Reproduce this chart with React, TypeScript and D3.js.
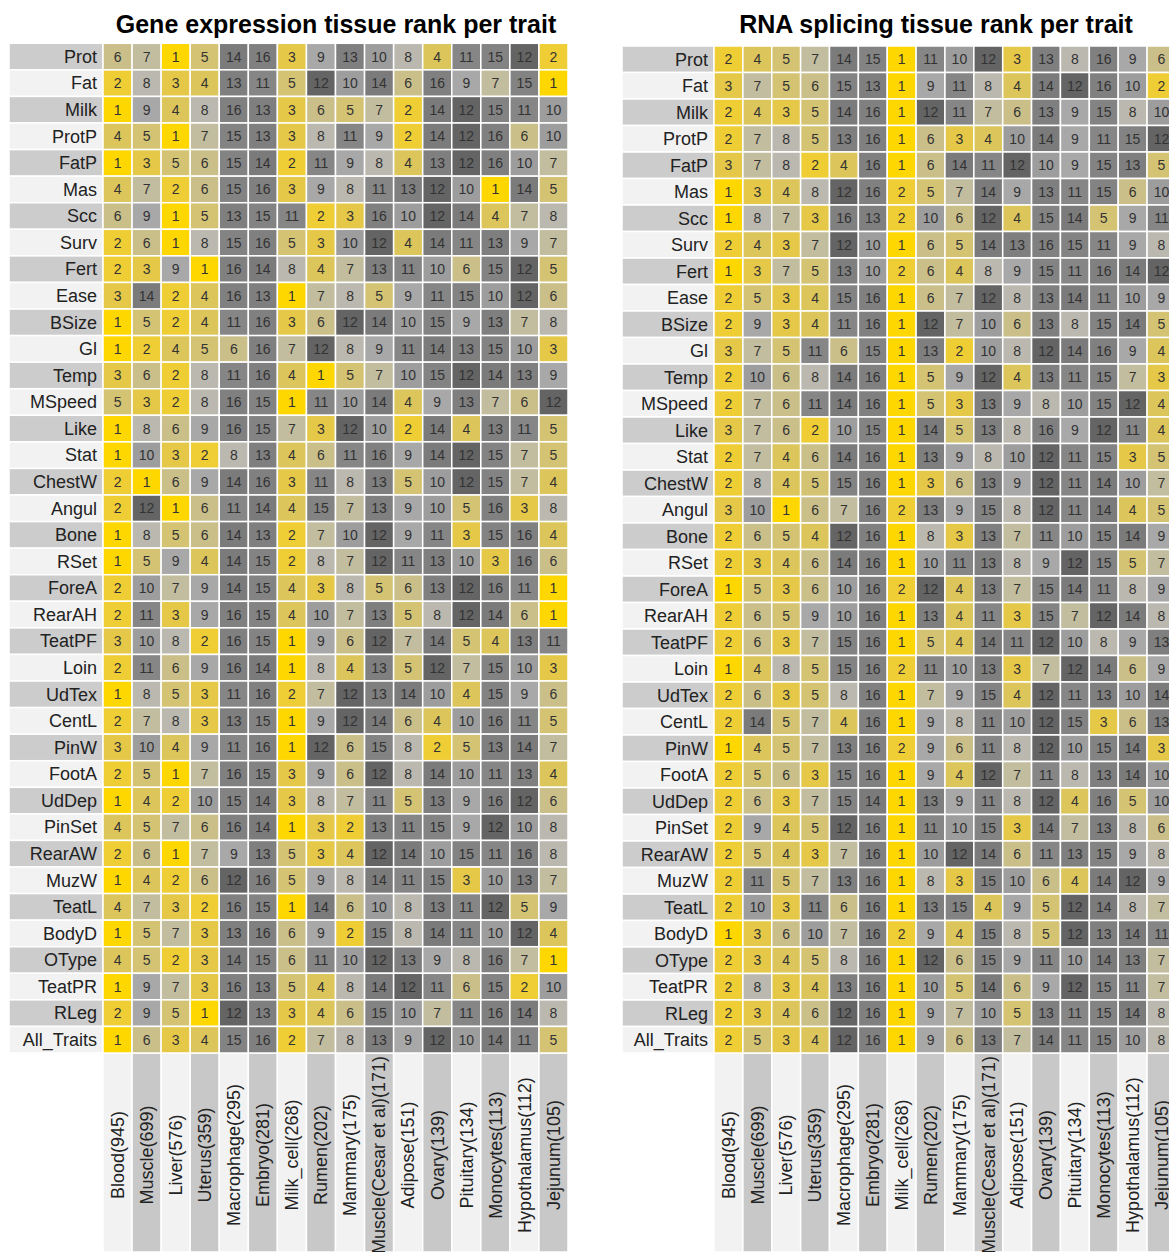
import React from "react";
import * as d3 from "d3";

// Tissues (columns) with number of samples
const tissues = [
  "Blood(945)", "Muscle(699)", "Liver(576)", "Uterus(359)", "Macrophage(295)",
  "Embryo(281)", "Milk_cell(268)", "Rumen(202)", "Mammary(175)",
  "Muscle(Cesar et al)(171)", "Adipose(151)", "Ovary(139)", "Pituitary(134)",
  "Monocytes(113)", "Hypothalamus(112)", "Jejunum(105)",
];

// Traits (rows)
const traits = [
  "Prot", "Fat", "Milk", "ProtP", "FatP", "Mas", "Scc", "Surv", "Fert", "Ease",
  "BSize", "Gl", "Temp", "MSpeed", "Like", "Stat", "ChestW", "Angul", "Bone",
  "RSet", "ForeA", "RearAH", "TeatPF", "Loin", "UdTex", "CentL", "PinW", "FootA",
  "UdDep", "PinSet", "RearAW", "MuzW", "TeatL", "BodyD", "OType", "TeatPR",
  "RLeg", "All_Traits",
];

// Tissue rank per trait, gene expression
const geneRanks = [
  [6, 7, 1, 5, 14, 16, 3, 9, 13, 10, 8, 4, 11, 15, 12, 2],
  [2, 8, 3, 4, 13, 11, 5, 12, 10, 14, 6, 16, 9, 7, 15, 1],
  [1, 9, 4, 8, 16, 13, 3, 6, 5, 7, 2, 14, 12, 15, 11, 10],
  [4, 5, 1, 7, 15, 13, 3, 8, 11, 9, 2, 14, 12, 16, 6, 10],
  [1, 3, 5, 6, 15, 14, 2, 11, 9, 8, 4, 13, 12, 16, 10, 7],
  [4, 7, 2, 6, 15, 16, 3, 9, 8, 11, 13, 12, 10, 1, 14, 5],
  [6, 9, 1, 5, 13, 15, 11, 2, 3, 16, 10, 12, 14, 4, 7, 8],
  [2, 6, 1, 8, 15, 16, 5, 3, 10, 12, 4, 14, 11, 13, 9, 7],
  [2, 3, 9, 1, 16, 14, 8, 4, 7, 13, 11, 10, 6, 15, 12, 5],
  [3, 14, 2, 4, 16, 13, 1, 7, 8, 5, 9, 11, 15, 10, 12, 6],
  [1, 5, 2, 4, 11, 16, 3, 6, 12, 14, 10, 15, 9, 13, 7, 8],
  [1, 2, 4, 5, 6, 16, 7, 12, 8, 9, 11, 14, 13, 15, 10, 3],
  [3, 6, 2, 8, 11, 16, 4, 1, 5, 7, 10, 15, 12, 14, 13, 9],
  [5, 3, 2, 8, 16, 15, 1, 11, 10, 14, 4, 9, 13, 7, 6, 12],
  [1, 8, 6, 9, 16, 15, 7, 3, 12, 10, 2, 14, 4, 13, 11, 5],
  [1, 10, 3, 2, 8, 13, 4, 6, 11, 16, 9, 14, 12, 15, 7, 5],
  [2, 1, 6, 9, 14, 16, 3, 11, 8, 13, 5, 10, 12, 15, 7, 4],
  [2, 12, 1, 6, 11, 14, 4, 15, 7, 13, 9, 10, 5, 16, 3, 8],
  [1, 8, 5, 6, 14, 13, 2, 7, 10, 12, 9, 11, 3, 15, 16, 4],
  [1, 5, 9, 4, 14, 15, 2, 8, 7, 12, 11, 13, 10, 3, 16, 6],
  [2, 10, 7, 9, 14, 15, 4, 3, 8, 5, 6, 13, 12, 16, 11, 1],
  [2, 11, 3, 9, 16, 15, 4, 10, 7, 13, 5, 8, 12, 14, 6, 1],
  [3, 10, 8, 2, 16, 15, 1, 9, 6, 12, 7, 14, 5, 4, 13, 11],
  [2, 11, 6, 9, 16, 14, 1, 8, 4, 13, 5, 12, 7, 15, 10, 3],
  [1, 8, 5, 3, 11, 16, 2, 7, 12, 13, 14, 10, 4, 15, 9, 6],
  [2, 7, 8, 3, 13, 15, 1, 9, 12, 14, 6, 4, 10, 16, 11, 5],
  [3, 10, 4, 9, 11, 16, 1, 12, 6, 15, 8, 2, 5, 13, 14, 7],
  [2, 5, 1, 7, 16, 15, 3, 9, 6, 12, 8, 14, 10, 11, 13, 4],
  [1, 4, 2, 10, 15, 14, 3, 8, 7, 11, 5, 13, 9, 16, 12, 6],
  [4, 5, 7, 6, 16, 14, 1, 3, 2, 13, 11, 15, 9, 12, 10, 8],
  [2, 6, 1, 7, 9, 13, 5, 3, 4, 12, 14, 10, 15, 11, 16, 8],
  [1, 4, 2, 6, 12, 16, 5, 9, 8, 14, 11, 15, 3, 10, 13, 7],
  [4, 7, 3, 2, 16, 15, 1, 14, 6, 10, 8, 13, 11, 12, 5, 9],
  [1, 5, 7, 3, 13, 16, 6, 9, 2, 15, 8, 14, 11, 10, 12, 4],
  [4, 5, 2, 3, 14, 15, 6, 11, 10, 12, 13, 9, 8, 16, 7, 1],
  [1, 9, 7, 3, 16, 13, 5, 4, 8, 14, 12, 11, 6, 15, 2, 10],
  [2, 9, 5, 1, 12, 13, 3, 4, 6, 15, 10, 7, 11, 16, 14, 8],
  [1, 6, 3, 4, 15, 16, 2, 7, 8, 13, 9, 12, 10, 14, 11, 5],
];

// Tissue rank per trait, RNA splicing
const spliceRanks = [
  [2, 4, 5, 7, 14, 15, 1, 11, 10, 12, 3, 13, 8, 16, 9, 6],
  [3, 7, 5, 6, 15, 13, 1, 9, 11, 8, 4, 14, 12, 16, 10, 2],
  [2, 4, 3, 5, 14, 16, 1, 12, 11, 7, 6, 13, 9, 15, 8, 10],
  [2, 7, 8, 5, 13, 16, 1, 6, 3, 4, 10, 14, 9, 11, 15, 12],
  [3, 7, 8, 2, 4, 16, 1, 6, 14, 11, 12, 10, 9, 15, 13, 5],
  [1, 3, 4, 8, 12, 16, 2, 5, 7, 14, 9, 13, 11, 15, 6, 10],
  [1, 8, 7, 3, 16, 13, 2, 10, 6, 12, 4, 15, 14, 5, 9, 11],
  [2, 4, 3, 7, 12, 10, 1, 6, 5, 14, 13, 16, 15, 11, 9, 8],
  [1, 3, 7, 5, 13, 10, 2, 6, 4, 8, 9, 15, 11, 16, 14, 12],
  [2, 5, 3, 4, 15, 16, 1, 6, 7, 12, 8, 13, 14, 11, 10, 9],
  [2, 9, 3, 4, 11, 16, 1, 12, 7, 10, 6, 13, 8, 15, 14, 5],
  [3, 7, 5, 11, 6, 15, 1, 13, 2, 10, 8, 12, 14, 16, 9, 4],
  [2, 10, 6, 8, 14, 16, 1, 5, 9, 12, 4, 13, 11, 15, 7, 3],
  [2, 7, 6, 11, 14, 16, 1, 5, 3, 13, 9, 8, 10, 15, 12, 4],
  [3, 7, 6, 2, 10, 15, 1, 14, 5, 13, 8, 16, 9, 12, 11, 4],
  [2, 7, 4, 6, 14, 16, 1, 13, 9, 8, 10, 12, 11, 15, 3, 5],
  [2, 8, 4, 5, 15, 16, 1, 3, 6, 13, 9, 12, 11, 14, 10, 7],
  [3, 10, 1, 6, 7, 16, 2, 13, 9, 15, 8, 12, 11, 14, 4, 5],
  [2, 6, 5, 4, 12, 16, 1, 8, 3, 13, 7, 11, 10, 15, 14, 9],
  [2, 3, 4, 6, 14, 16, 1, 10, 11, 13, 8, 9, 12, 15, 5, 7],
  [1, 5, 3, 6, 10, 16, 2, 12, 4, 13, 7, 15, 14, 11, 8, 9],
  [2, 6, 5, 9, 10, 16, 1, 13, 4, 11, 3, 15, 7, 12, 14, 8],
  [2, 6, 3, 7, 15, 16, 1, 5, 4, 14, 11, 12, 10, 8, 9, 13],
  [1, 4, 8, 5, 15, 16, 2, 11, 10, 13, 3, 7, 12, 14, 6, 9],
  [2, 6, 3, 5, 8, 16, 1, 7, 9, 15, 4, 12, 11, 13, 10, 14],
  [2, 14, 5, 7, 4, 16, 1, 9, 8, 11, 10, 12, 15, 3, 6, 13],
  [1, 4, 5, 7, 13, 16, 2, 9, 6, 11, 8, 12, 10, 15, 14, 3],
  [2, 5, 6, 3, 15, 16, 1, 9, 4, 12, 7, 11, 8, 13, 14, 10],
  [2, 6, 3, 7, 15, 14, 1, 13, 9, 11, 8, 12, 4, 16, 5, 10],
  [2, 9, 4, 5, 12, 16, 1, 11, 10, 15, 3, 14, 7, 13, 8, 6],
  [2, 5, 4, 3, 7, 16, 1, 10, 12, 14, 6, 11, 13, 15, 9, 8],
  [2, 11, 5, 7, 13, 16, 1, 8, 3, 15, 10, 6, 4, 14, 12, 9],
  [2, 10, 3, 11, 6, 16, 1, 13, 15, 4, 9, 5, 12, 14, 8, 7],
  [1, 3, 6, 10, 7, 16, 2, 9, 4, 15, 8, 5, 12, 13, 14, 11],
  [2, 3, 4, 5, 8, 16, 1, 12, 6, 15, 9, 11, 10, 14, 13, 7],
  [2, 8, 3, 4, 13, 16, 1, 10, 5, 14, 6, 9, 12, 15, 11, 7],
  [2, 3, 4, 6, 12, 16, 1, 9, 7, 10, 5, 13, 11, 15, 14, 8],
  [2, 5, 3, 4, 12, 16, 1, 9, 6, 13, 7, 14, 11, 15, 10, 8],
];

// Fill colour for each rank 1..16
const rankLevels = d3.range(1, 17);
const rankColors = [
  "#ffd700", "#efcd34", "#e5c848", "#dcc55a", "#d4c373", "#cabf89", "#c3bd9f", "#bbb9af",
  "#a8a8a8", "#9d9d9d", "#868686", "#646464", "#7f7f7f", "#7b7b7b", "#838383", "#808080",
];

const FONT = "'Liberation Sans', Arial, Helvetica, sans-serif";
const GRID_BOTTOM = 1053;
const LABEL_MID_Y = 1155;
const HEIGHT = 1252;

type PanelProps = {
  title: string;
  titleX: number;
  ranks: number[][];
  labelLeft: number;
  gridLeft: number;
  gridRight: number;
  gridTop: number;
};

function Panel({ title, titleX, ranks, labelLeft, gridLeft, gridRight, gridTop }: PanelProps) {
  const x = d3.scaleBand<string>().domain(tissues).range([gridLeft, gridRight]);
  const y = d3.scaleBand<string>().domain(traits).range([gridTop, GRID_BOTTOM]);
  const color = d3.scaleOrdinal<number, string>().domain(rankLevels).range(rankColors);
  const bw = x.bandwidth();
  const bh = y.bandwidth();

  return (
    <g>
      <text
        x={titleX}
        y={33}
        textAnchor="middle"
        fontFamily={FONT}
        fontWeight="bold"
        fontSize={25}
        fill="#000"
      >
        {title}
      </text>

      {/* trait labels */}
      {traits.map((t, i) => (
        <g key={t}>
          <rect
            x={labelLeft}
            y={y(t)!}
            width={gridLeft - labelLeft}
            height={bh}
            fill={i % 2 === 0 ? "#cccccc" : "#f2f2f2"}
            stroke="#fff"
            strokeWidth={1.5}
          />
          <text
            x={gridLeft - 6}
            y={y(t)! + bh / 2}
            dy="0.35em"
            textAnchor="end"
            fontFamily={FONT}
            fontSize={18}
            fill="#222"
          >
            {t}
          </text>
        </g>
      ))}

      {/* tissue labels */}
      {tissues.map((c, j) => (
        <g key={c}>
          <rect
            x={x(c)!}
            y={GRID_BOTTOM}
            width={bw}
            height={HEIGHT - GRID_BOTTOM}
            fill={j % 2 === 0 ? "#f2f2f2" : "#c8c8c8"}
            stroke="#fff"
            strokeWidth={1.5}
          />
          <text
            transform={`translate(${x(c)! + bw / 2},${LABEL_MID_Y}) rotate(-90)`}
            dy="0.35em"
            textAnchor="middle"
            fontFamily={FONT}
            fontSize={18}
            fill="#222"
          >
            {c}
          </text>
        </g>
      ))}

      {/* rank cells */}
      {ranks.map((row, i) =>
        row.map((v, j) => (
          <g key={`${i}-${j}`}>
            <rect
              x={x(tissues[j])!}
              y={y(traits[i])!}
              width={bw}
              height={bh}
              fill={color(v)}
              stroke="#fff"
              strokeWidth={1.5}
            />
            <text
              x={x(tissues[j])! + bw / 2}
              y={y(traits[i])! + bh / 2}
              dy="0.36em"
              textAnchor="middle"
              fontFamily={FONT}
              fontSize={14}
              fill="#333"
            >
              {v}
            </text>
          </g>
        ))
      )}
    </g>
  );
}

export default function App() {
  return (
    <div style={{ position: "absolute", left: 0, top: 0 }}>
      <svg width={1169} height={HEIGHT} style={{ display: "block", background: "#fff" }}>
        <Panel
          title="Gene expression tissue rank per trait"
          titleX={336}
          ranks={geneRanks}
          labelLeft={9}
          gridLeft={103}
          gridRight={568}
          gridTop={43.3}
        />
        <Panel
          title="RNA splicing tissue rank per trait"
          titleX={936}
          ranks={spliceRanks}
          labelLeft={622}
          gridLeft={714}
          gridRight={714 + 16 * 28.87}
          gridTop={46}
        />
      </svg>
    </div>
  );
}
